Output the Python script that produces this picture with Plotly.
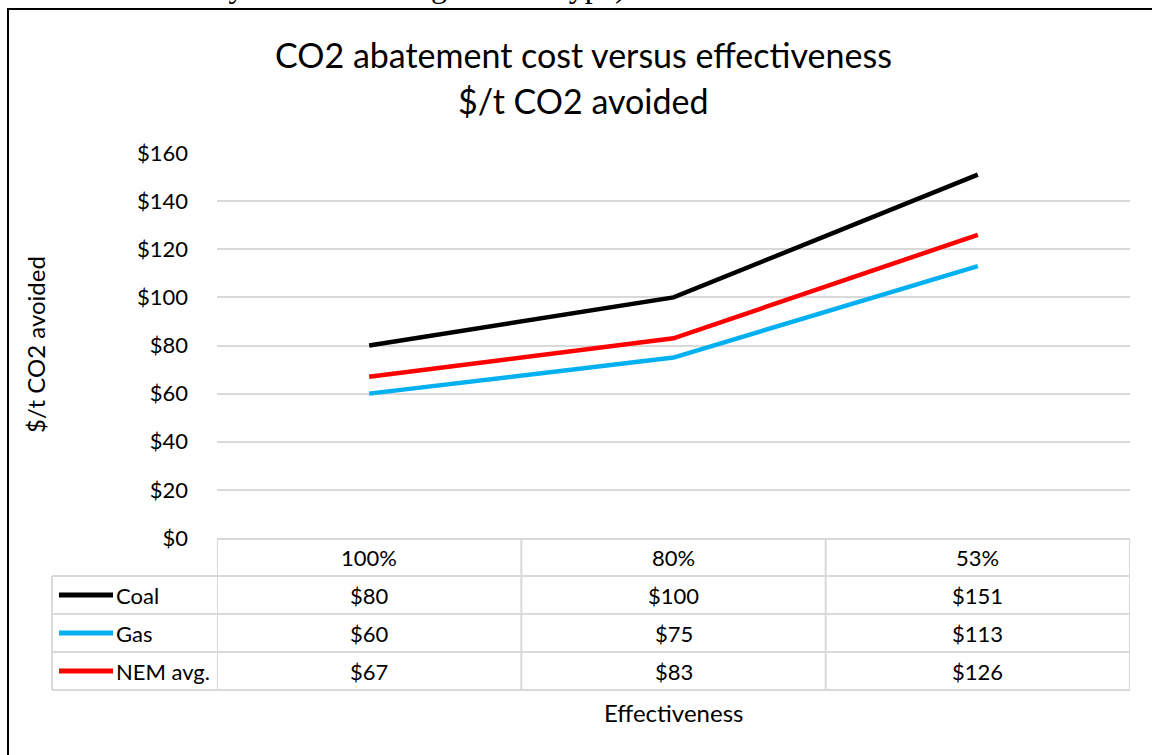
import plotly.graph_objects as go

categories = ['100%', '80%', '53%']
series_names = ['Coal', 'Gas', 'NEM avg.']
coal = [80, 100, 151]
gas = [60, 75, 113]
nem = [67, 83, 126]
series_values = [coal, gas, nem]
series_colors = ['#000000', '#00b0f0', '#ff0000']
y_ticks = [0, 20, 40, 60, 80, 100, 120, 140, 160]

FONT = 'Lato'
GRID = '#d9d9d9'

# plot area in pixels
L, R, T, B = 217, 1130, 153, 538
W, H = 1152, 755


def px(x):
    return (x - L) / (R - L)


def py(y):
    return (B - y) / (B - T)


def label(x, y, text, size, xref='paper', **kw):
    d = dict(x=x, xref=xref, y=y, yref='paper', text=text, showarrow=False,
             xanchor='center', yanchor='middle',
             font=dict(size=size, color='#000000', family=FONT))
    d.update(kw)
    return d


fig = go.Figure()
for name, vals, col in zip(series_names, series_values, series_colors):
    fig.add_trace(go.Scatter(x=categories, y=vals, name=name, mode='lines',
                             line=dict(color=col, width=4.5), showlegend=False,
                             hoverinfo='x+y+name'))

shapes = []
annotations = []

# data table grid
row_edges = [539, 576, 614, 652, 690]
for i, ry in enumerate(row_edges):
    x0 = L if i == 0 else 52
    shapes.append(dict(type='line', xref='paper', yref='paper',
                       x0=px(x0), x1=px(R), y0=py(ry), y1=py(ry),
                       line=dict(color=GRID, width=2)))
shapes.append(dict(type='line', xref='paper', yref='paper',
                   x0=px(52), x1=px(52), y0=py(576), y1=py(690),
                   line=dict(color=GRID, width=2)))
for xv in [-0.5, 0.5, 1.5, 2.5]:
    shapes.append(dict(type='line', xref='x', yref='paper',
                       x0=xv, x1=xv, y0=py(539), y1=py(690),
                       line=dict(color=GRID, width=2)))

# header row
for c in categories:
    annotations.append(label(c, py(557.5), c, 22, xref='x'))

# series rows
for r, (name, vals, col) in enumerate(zip(series_names, series_values, series_colors)):
    yc = py((row_edges[r + 1] + row_edges[r + 2]) / 2)
    shapes.append(dict(type='line', xref='paper', yref='paper',
                       x0=px(59), x1=px(113), y0=yc, y1=yc,
                       line=dict(color=col, width=5)))
    annotations.append(label(px(114), yc, name, 22, xanchor='left'))
    for c, v in zip(categories, vals):
        annotations.append(label(c, yc, f'${v:.0f}', 22, xref='x'))

# outer frame of the chart
shapes.append(dict(type='rect', xref='paper', yref='paper',
                   x0=px(8), x1=px(1170), y0=py(9), y1=py(780),
                   line=dict(color='#000000', width=2), layer='below'))

# titles
annotations.append(label(px(583), py(55), 'CO2 abatement cost versus effectiveness', 34))
annotations.append(label(px(583), py(100), '$/t CO2 avoided', 34))
annotations.append(label(px(35), py(345), '$/t CO2 avoided', 24, textangle=-90))
annotations.append(label(px(673), py(712), 'Effectiveness', 24))

# clipped line of the surrounding document
annotations.append(label(px(-2), py(-14), 'emissions intensity used for each generator type).', 32,
                         xanchor='left',
                         font=dict(size=32, color='#000000', family='Liberation Serif')))

fig.update_layout(
    width=W, height=H,
    margin=dict(l=L, r=W - R, t=T, b=H - B, pad=0),
    paper_bgcolor='white', plot_bgcolor='white',
    font=dict(family=FONT, size=22, color='#000000'),
    xaxis=dict(type='category', range=[-0.5, 2.5], showticklabels=False,
               showgrid=False, zeroline=False, showline=False, fixedrange=True),
    yaxis=dict(range=[0, 160], tickvals=y_ticks,
               ticktext=[f'${t}' for t in y_ticks],
               showgrid=True, gridcolor=GRID, gridwidth=2, zeroline=False,
               showline=False, ticks='', ticklabelstandoff=28,
               tickfont=dict(size=22, family=FONT), fixedrange=True),
    shapes=shapes,
    annotations=annotations,
)

fig.write_html('out.html', config={'displayModeBar': False},
               post_script="document.body.style.margin='0px';")
